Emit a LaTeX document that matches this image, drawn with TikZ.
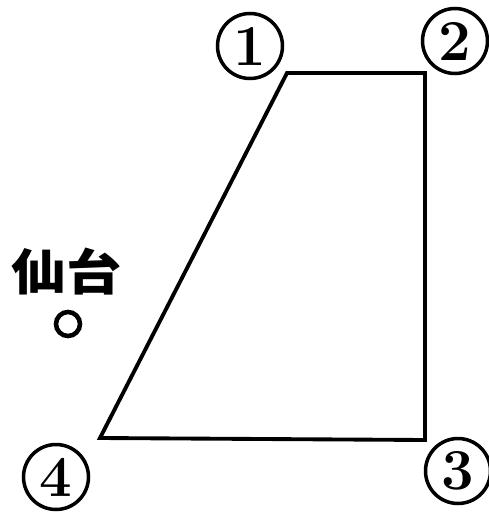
\documentclass[tikz,border=0pt]{standalone}
\usepackage{fontspec}
\newfontfamily\cjk{Noto Sans CJK JP}
\begin{document}
\begin{tikzpicture}[x=0.02cm, y=-0.02cm]
    % Set up styles
    \tikzstyle{edge} = [line width=2.2pt, line join=miter]
    \tikzstyle{marker} = [draw, circle, line width=2pt, minimum size=1.3cm, inner sep=0pt,
        font=\fontsize{33}{35}\selectfont\bfseries]

    \useasboundingbox (0,0) rectangle (488,514);

    % Corners of the area
    \coordinate (p1) at (287,73);
    \coordinate (p2) at (425,73);
    \coordinate (p3) at (425,440);
    \coordinate (p4) at (100,438);

    % Draw the area
    \draw[edge] (p1) -- (p2) -- (p3) -- (p4) -- cycle;

    % Number the corners
    \node[marker] (n1) at (250,46) {1};
    \node[marker] (n2) at (455,41) {2};
    \node[marker] (n3) at (458,471) {3};
    \node[marker] (n4) at (56,477) {4};

    % Mark the city
    \node[font=\cjk\bfseries\fontsize{28}{30}\selectfont, xscale=1.12] (city) at (67,272) {仙台};
    \node[draw, circle, line width=2.6pt, minimum size=0.48cm, inner sep=0pt] (dot) at (68,324) {};

\end{tikzpicture}
\end{document}
